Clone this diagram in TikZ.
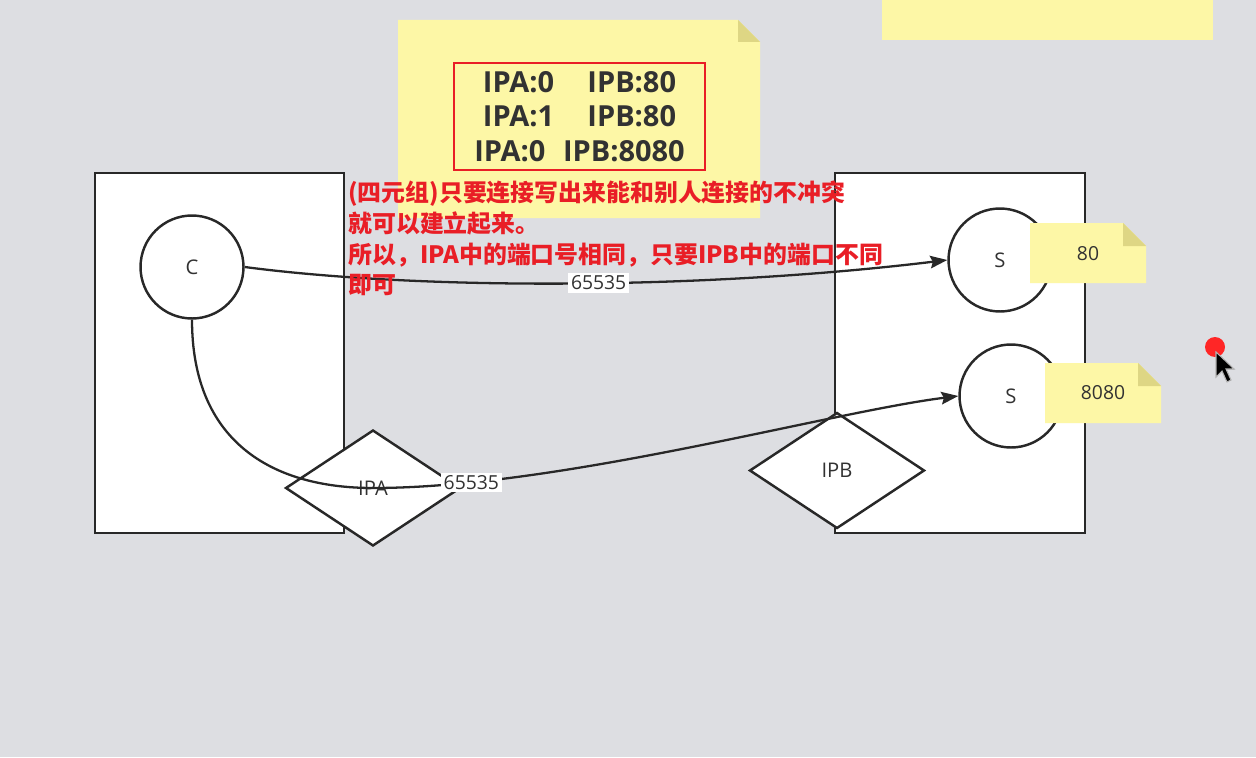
\documentclass[tikz,border=0pt]{standalone}
\usepackage{fontspec}
\setmainfont{Open Sans}
\newfontfamily\cjk{Noto Sans CJK SC}
\usepackage{tikz}
\usetikzlibrary{arrows.meta, positioning, shapes.geometric}
\usepackage{xcolor}
\definecolor{bg}{RGB}{221,222,226}
\definecolor{sticky}{RGB}{253,247,166}
\definecolor{stickyfold}{RGB}{222,214,132}
\definecolor{warn}{RGB}{233,30,38}
\definecolor{ink}{RGB}{40,40,40}
\definecolor{txt}{RGB}{50,50,50}

\begin{document}
\begin{tikzpicture}[x=0.02cm, y=-0.02cm,
  host/.style={draw=ink, fill=white, line width=1.4pt},
  proc/.style={circle, draw=ink, fill=white, line width=1.4pt, minimum size=2.06cm, inner sep=0pt, font=\fontsize{11.5}{13}\selectfont, text=txt},
  ipbox/.style={diamond, draw=ink, fill=white, line width=1.4pt, minimum width=3.5cm, minimum height=2.32cm, inner sep=0pt, font=\fontsize{11.5}{13}\selectfont, text=txt},
  conn/.style={draw=ink, line width=1.3pt},
  arr/.style={conn, -{Stealth[length=0.34cm, width=0.25cm, inset=0.05cm]}},
  port/.style={fill=white, inner sep=1.5pt, font=\fontsize{11}{12}\selectfont, text=txt},
  notetxt/.style={font=\fontsize{11}{12}\selectfont, text=txt}]
  \useasboundingbox (0,0) rectangle (1256,757);
  \fill[bg] (0,0) rectangle (1256,757);
  % Sticky strip, top right
  \fill[sticky] (882,0) rectangle (1213,40);
  % Big sticky note
  \fill[sticky] (398,20) -- (738,20) -- (760,42) -- (760,218) -- (398,218) -- cycle;
  \fill[stickyfold] (738,20) -- (738,42) -- (760,42) -- cycle;
  \node[draw=warn, line width=1.3pt, minimum width=5.02cm, minimum height=2.14cm, align=center, text=txt,
        font=\bfseries\fontsize{16.5}{19.8}\selectfont] (tuples) at (579.5,116.5)
    {IPA:0\hspace{19pt}IPB:80\\IPA:1\hspace{19pt}IPB:80\\IPA:0\hspace{10pt}IPB:8080};
  % Hosts
  \draw[host] (95,173) rectangle (344,533);
  \draw[host] (835,173) rectangle (1085,533);
  \node[proc] (c) at (192,267) {C};
  \node[proc] (s1) at (1000,260) {S};
  \node[proc] (s2) at (1011,396) {S};
  \node[ipbox] (ipa) at (373,488) {IPA};
  \node[ipbox] (ipb) at (837,470.5) {IPB};
  % Port notes
  \foreach \xa/\ya/\xb/\yb in {1030/223/1146/283, 1045/363/1161/423} {
    \fill[sticky] (\xa,\ya) -- (\xb-23,\ya) -- (\xb,\ya+23) -- (\xb,\yb) -- (\xa,\yb) -- cycle;
    \fill[stickyfold] (\xb-23,\ya) -- (\xb-23,\ya+23) -- (\xb,\ya+23) -- cycle;
  }
  \node[notetxt] (p80) at (1088,254) {80};
  \node[notetxt] (p8080) at (1103,393) {8080};
  % Connections
  \draw[arr] (c.east) .. controls (420,290) and (700,290) .. node[port, pos=0.54] (la) {65535} (s1.west);
  \draw[arr] (c.south) .. controls (192,440) and (270,488) .. (ipa.center)
    .. controls (560,488) and (830,412) .. node[port, pos=0.165] (lb) {65535} (s2.west);
  % Remark
  \node[anchor=north west, inner sep=0pt, align=left, text=warn,
        font=\cjk\bfseries\fontsize{13.6}{17.4}\selectfont] (remark) at (348,181)
    {(四元组)只要连接写出来能和别人连接的不冲突\\就可以建立起来。\\所以，IPA中的端口号相同，只要IPB中的端口不同\\即可};
  % Pointer
  \fill[red!85!white] (1215,347) circle (10);
  \draw[fill=black, draw=gray!60, line width=0.6pt] (1216,352) -- (1216,377) -- (1222,371) -- (1227,382) -- (1231,380) -- (1226,369) -- (1234,369) -- cycle;
\end{tikzpicture}
\end{document}
